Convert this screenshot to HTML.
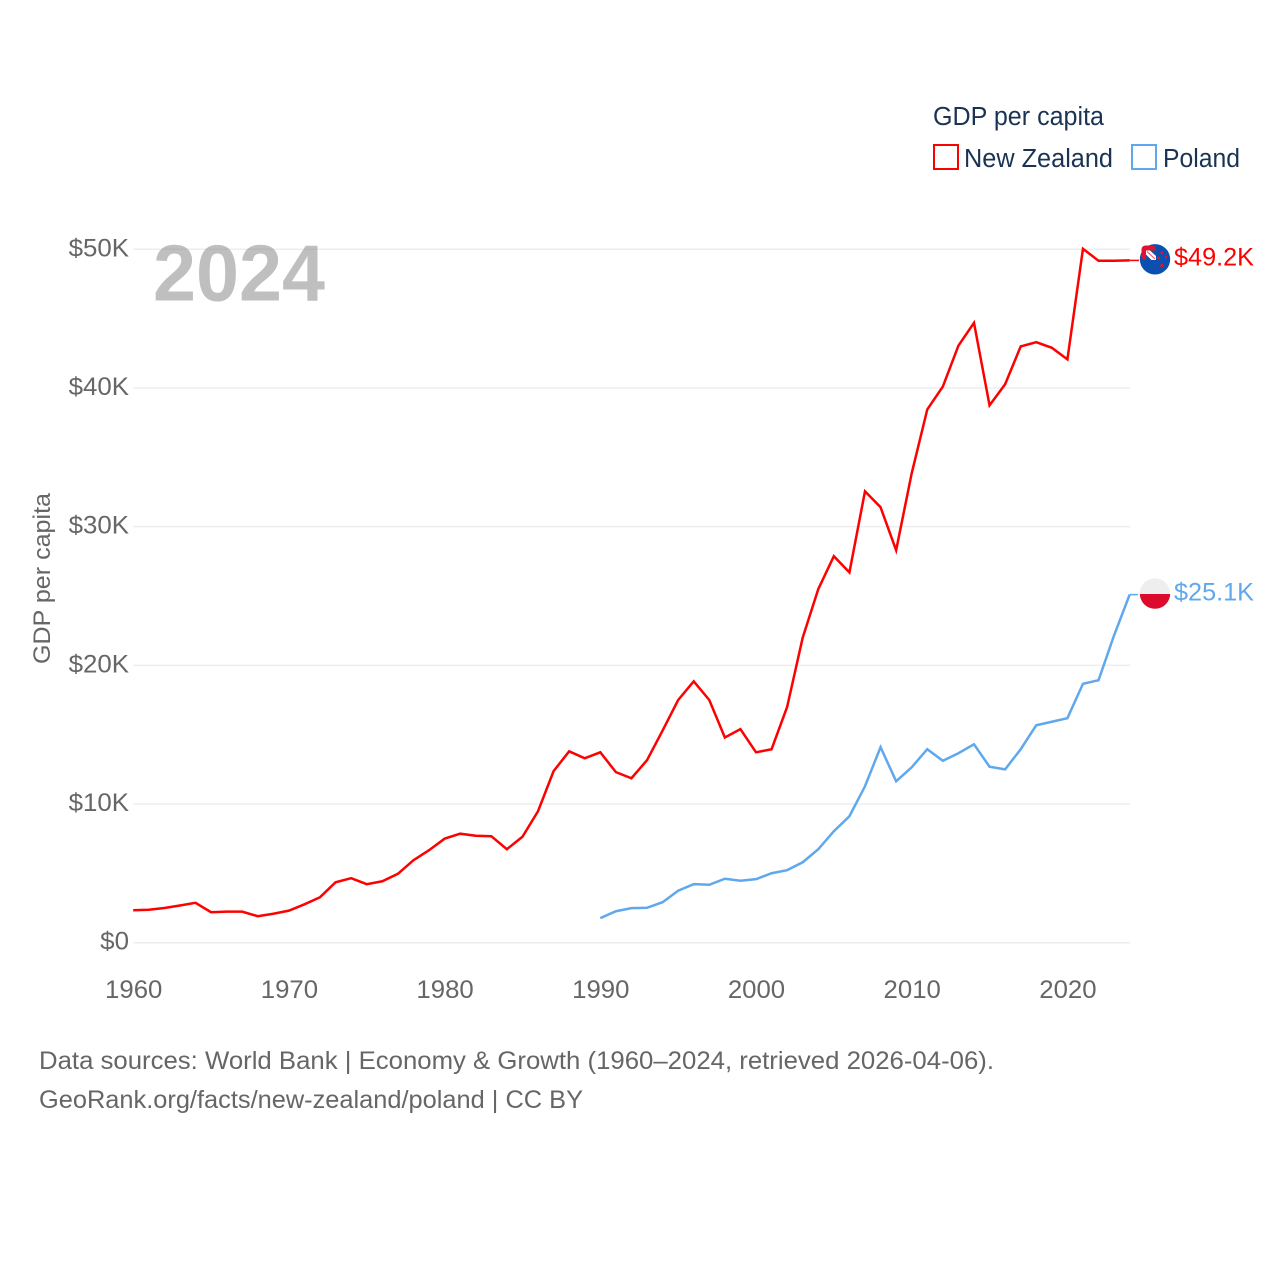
<!DOCTYPE html>
<html lang="en">
<head>
<meta charset="utf-8">
<title>GDP per capita: New Zealand and Poland</title>
<style>
html,body{margin:0;padding:0;background:#fff;}
svg{display:block;}
text{font-family:"Liberation Sans",sans-serif;}
</style>
</head>
<body>
<svg id="chart" xmlns="http://www.w3.org/2000/svg" width="1280" height="1280" viewBox="0 0 1280 1280">
  <defs>
    <clipPath id="nz-clip"><circle cx="1155" cy="259.3" r="15.2"/></clipPath>
    <clipPath id="pl-clip"><circle cx="1155" cy="593.6" r="15.2"/></clipPath>
  </defs>
  <rect x="0" y="0" width="1280" height="1280" fill="#ffffff"/>
  <g id="grid"></g>
  <g id="yticks"></g>
  <g id="xticks"></g>
  <text x="153" y="300.500" font-size="80" font-weight="700" fill="#7f7f7f" fill-opacity="0.5" textLength="172" lengthAdjust="spacingAndGlyphs">2024</text>
  <text transform="translate(50,664) rotate(-90)" font-size="24.500" fill="#666666" textLength="171" lengthAdjust="spacingAndGlyphs">GDP per capita</text>
  <g id="series"></g>

  <g>
    <circle cx="1155" cy="259.300" r="15.200" fill="#0b50b0"/>
    <rect x="1141.500" y="245.500" width="14.500" height="14.500" rx="4" fill="#dc1430"/>
    <rect x="1146" y="250.500" width="10" height="9.500" fill="#ffffff"/>
    <path d="M1150 250.500h6v5.500zM1146 254.500l5.500 5.500h-5.500z" fill="#1a4f9c"/>
    <path d="M1147 251.500l8 7.500" stroke="#e8506a" stroke-width="1"/>
    <circle cx="1162" cy="253" r="1.500" fill="#dc1430"/>
    <circle cx="1158.500" cy="258" r="1.500" fill="#dc1430"/>
    <circle cx="1166" cy="257" r="1.300" fill="#dc1430"/>
    <circle cx="1162" cy="265.500" r="1.800" fill="#dc1430"/>
  </g>
  <g clip-path="url(#pl-clip)">
    <rect x="1139" y="578" width="32" height="16" fill="#eeeeee"/>
    <rect x="1139" y="594" width="32" height="16" fill="#dc0a2d"/>
  </g>
  <text id="nz-value" x="1174" y="265.500" font-size="25" fill="#ff0000" textLength="80" lengthAdjust="spacingAndGlyphs">$49.2K</text>
  <text id="pl-value" x="1174" y="600.500" font-size="25" fill="#5fa8ee" textLength="80" lengthAdjust="spacingAndGlyphs">$25.1K</text>

  <g>
    <text x="933" y="125" font-size="25.500" fill="#1a3353" textLength="171" lengthAdjust="spacingAndGlyphs">GDP per capita</text>
    <rect x="934" y="145" width="24" height="24" fill="none" stroke="#ff0000" stroke-width="2"/>
    <text x="964" y="167" font-size="25.500" fill="#1a3353" textLength="149" lengthAdjust="spacingAndGlyphs">New Zealand</text>
    <rect x="1132" y="145" width="24" height="24" fill="none" stroke="#5fa8ee" stroke-width="2"/>
    <text x="1163" y="167" font-size="25.500" fill="#1a3353" textLength="77" lengthAdjust="spacingAndGlyphs">Poland</text>
  </g>

  <text x="39" y="1069" font-size="25" fill="#666666" textLength="955" lengthAdjust="spacingAndGlyphs">Data sources: World Bank | Economy &amp; Growth (1960–2024, retrieved 2026-04-06).</text>
  <text x="39" y="1108" font-size="25" fill="#666666" textLength="544" lengthAdjust="spacingAndGlyphs">GeoRank.org/facts/new-zealand/poland | CC BY</text>
</svg>
<script>
const nzStartYear = 1960;
const nzValues = [2.34,2.38,2.5,2.68,2.88,2.2,2.24,2.24,1.91,2.09,2.31,2.77,3.28,4.36,4.65,4.22,4.43,4.97,5.95,6.67,7.5,7.86,7.71,7.68,6.74,7.64,9.48,12.37,13.8,13.3,13.73,12.3,11.86,13.16,15.3,17.5,18.85,17.5,14.8,15.4,13.73,13.95,17,22,25.5,27.87,26.7,32.55,31.4,28.3,33.85,38.45,40.1,43.05,44.7,38.75,40.27,43,43.3,42.9,42.06,50.04,49.17,49.17,49.2];
const plStartYear = 1990;
const plValues = [1.77,2.27,2.49,2.52,2.92,3.75,4.22,4.18,4.61,4.47,4.58,5.01,5.23,5.8,6.74,8.04,9.12,11.28,14.1,11.64,12.65,13.95,13.12,13.66,14.31,12.69,12.5,13.95,15.68,15.93,16.19,18.67,18.93,22.17,25.1];
const yTickValues = [0,10,20,30,40,50];
const yTickLabels = ["$0","$10K","$20K","$30K","$40K","$50K"];
const xTickYears = [1960,1970,1980,1990,2000,2010,2020];

const SVGNS = "http://www.w3.org/2000/svg";
function xScale(year){ return 133.2 + (year - 1960) * 15.57; }
function yScale(v){ return 942.7 - v * (942.7 - 249.3) / 50; }

const grid = document.getElementById('grid');
const yticks = document.getElementById('yticks');
const xticks = document.getElementById('xticks');
const series = document.getElementById('series');

yTickValues.forEach(function(v, i){
  const line = document.createElementNS(SVGNS, 'line');
  
  
  line.setAttribute('x1', 133);
  line.setAttribute('x2', 1130);
  line.setAttribute('y1', yScale(v));
  line.setAttribute('y2', yScale(v));
  line.setAttribute('stroke', '#eeeeee');
  line.setAttribute('stroke-width', '1.500');
  grid.appendChild(line);

  const t = document.createElementNS(SVGNS, 'text');
  
  
  t.setAttribute('x', 129);
  t.setAttribute('y', yScale(v) + 7);
  t.setAttribute('text-anchor', 'end');
  t.setAttribute('font-size', '25');
  t.setAttribute('fill', '#666666');
  t.textContent = yTickLabels[i];
  yticks.appendChild(t);
  t.setAttribute('textLength', (t.getComputedTextLength() * 1.035).toFixed(1));
  t.setAttribute('lengthAdjust', 'spacingAndGlyphs');
});

xTickYears.forEach(function(year){
  const t = document.createElementNS(SVGNS, 'text');
  
  
  t.setAttribute('x', xScale(year) + 0.5);
  t.setAttribute('y', 998);
  t.setAttribute('text-anchor', 'middle');
  t.setAttribute('font-size', '25');
  t.setAttribute('fill', '#666666');
  t.textContent = String(year);
  xticks.appendChild(t);
  t.setAttribute('textLength', (t.getComputedTextLength() * 1.03).toFixed(1));
  t.setAttribute('lengthAdjust', 'spacingAndGlyphs');
});

function pathFor(values, startYear){
  return values.map(function(v, i){
    return (i ? 'L' : 'M') + xScale(startYear + i).toFixed(2) + ' ' + yScale(v).toFixed(2);
  }).join('');
}
function lastPoint(values, startYear){
  return [xScale(startYear + values.length - 1), yScale(values[values.length - 1])];
}

const nzLine = document.createElementNS(SVGNS, 'path');


nzLine.setAttribute('d', pathFor(nzValues, nzStartYear));
nzLine.setAttribute('fill', 'none');
nzLine.setAttribute('stroke', '#ff0000');
nzLine.setAttribute('stroke-width', '2.500');
nzLine.setAttribute('stroke-linejoin', 'miter');
series.appendChild(nzLine);

const nzEnd = lastPoint(nzValues, nzStartYear);
const nzConnector = document.createElementNS(SVGNS, 'line');


nzConnector.setAttribute('x1', nzEnd[0]);
nzConnector.setAttribute('x2', 1139);
nzConnector.setAttribute('y1', nzEnd[1]);
nzConnector.setAttribute('y2', nzEnd[1]);
nzConnector.setAttribute('stroke', '#ff0000');
nzConnector.setAttribute('stroke-width', '1.500');
series.appendChild(nzConnector);

const plLine = document.createElementNS(SVGNS, 'path');


plLine.setAttribute('d', pathFor(plValues, plStartYear));
plLine.setAttribute('fill', 'none');
plLine.setAttribute('stroke', '#5fa8ee');
plLine.setAttribute('stroke-width', '2.500');
plLine.setAttribute('stroke-linejoin', 'miter');
series.appendChild(plLine);

const plEnd = lastPoint(plValues, plStartYear);
const plConnector = document.createElementNS(SVGNS, 'line');


plConnector.setAttribute('x1', plEnd[0]);
plConnector.setAttribute('x2', 1138);
plConnector.setAttribute('y1', plEnd[1]);
plConnector.setAttribute('y2', plEnd[1]);
plConnector.setAttribute('stroke', '#5fa8ee');
plConnector.setAttribute('stroke-width', '1.500');
series.appendChild(plConnector);
</script>
</body>
</html>
